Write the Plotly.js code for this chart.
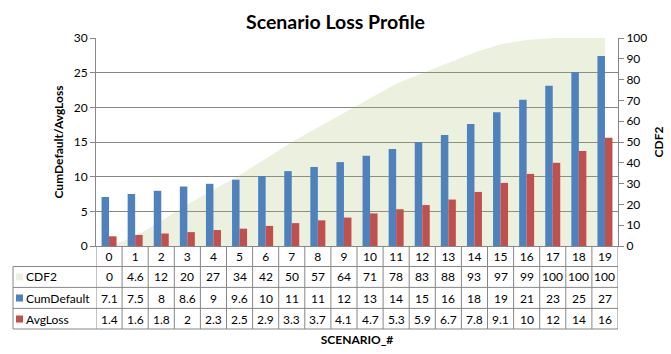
<!DOCTYPE html>
<html><head><meta charset="utf-8">
<script src="https://cdn.plot.ly/plotly-3.0.1.min.js"></script>
<style>html,body{margin:0;padding:0;background:#fff}</style>
</head><body><div id="chart" style="width:671px;height:354px"></div>
<script>
const scenarios = [0,1,2,3,4,5,6,7,8,9,10,11,12,13,14,15,16,17,18,19];
const cdf2 = [0,4.6,12,20,27,34,42,50,57,64,71,78,83,88,93,97,99,100,100,100];
const cumDefault = [7.07,7.5,7.96,8.58,8.97,9.56,10.1,10.8,11.4,12.1,13.0,14.0,15.0,16.0,17.6,19.3,21.1,23.1,25.1,27.4];
const avgLoss = [1.4,1.6,1.8,2.0,2.3,2.5,2.9,3.3,3.7,4.1,4.7,5.3,5.9,6.7,7.8,9.1,10.4,12.0,13.7,15.6];
const seriesNames = ['CDF2','CumDefault','AvgLoss'];

const FONT = 'Lato, "Open Sans", sans-serif';
const GRID = '#878787';
const colBlue = '#4F81BD', colRed = '#C0504D', colArea = 'rgba(155,187,89,0.2)', colAreaKey = '#EBF1DE';
const fmt = v => String(Number(v.toPrecision(2)));

const traces = [
  {type:'scatter', x: scenarios, y: cdf2, name: seriesNames[0], mode:'lines', fill:'tozeroy',
   fillcolor: colArea, line:{width:0, color: colArea}, xaxis:'x', yaxis:'y', hoverinfo:'skip'},
  {type:'bar', x: scenarios, y: cumDefault, name: seriesNames[1], marker:{color: colBlue}, xaxis:'x', yaxis:'y2'},
  {type:'bar', x: scenarios, y: avgLoss, name: seriesNames[2], marker:{color: colRed}, xaxis:'x', yaxis:'y2'}
];

// table geometry (paper coords)
const rowLines = [-0.0986, -0.199, -0.300, -0.399];
const rowCenters = [-0.149, -0.250, -0.351];
const tableLeft = -0.159;
const shapes = [];
rowLines.forEach(y => shapes.push({type:'line', xref:'paper', yref:'paper', x0: tableLeft, x1: 1, y0: y, y1: y, line:{color: GRID, width:1}}));
for (let i = 0; i <= scenarios.length; i++) {
  shapes.push({type:'line', xref:'x', yref:'paper', x0: i - 0.5, x1: i - 0.5, y0: rowLines[3], y1: 0, line:{color: GRID, width:1}});
}
shapes.push({type:'line', xref:'paper', yref:'paper', x0: tableLeft, x1: tableLeft, y0: rowLines[0], y1: rowLines[3], line:{color: GRID, width:1}});
const keyColors = [colAreaKey, colBlue, colRed];
const annotations = [];
const rows = [cdf2, cumDefault, avgLoss];
rows.forEach((vals, r) => {
  shapes.push({type:'rect', xref:'paper', yref:'paper', x0: -0.1533, x1: -0.1398,
    y0: rowCenters[r] - 0.017, y1: rowCenters[r] + 0.017, fillcolor: keyColors[r], line:{width:0}});
  annotations.push({xref:'paper', yref:'paper', x: -0.137, y: rowCenters[r], xanchor:'left', yanchor:'middle',
    text: seriesNames[r], showarrow:false, font:{family: FONT, size: 12, color:'#000'}});
  vals.forEach((v, i) => annotations.push({xref:'x', yref:'paper', x: scenarios[i], y: rowCenters[r],
    xanchor:'center', yanchor:'middle', text: fmt(v), showarrow:false, font:{family: FONT, size: 12, color:'#000'}}));
});

const layout = {
  width: 671, height: 354,
  margin: {l: 96, r: 53, t: 38, b: 108},
  paper_bgcolor: '#fff', plot_bgcolor: 'rgba(0,0,0,0)',
  font: {family: FONT, size: 12, color: '#000'},
  showlegend: false,
  barmode: 'group', bargap: 0.425, bargroupgap: 0,
  title: {text: 'Scenario Loss Profile', x: 0.5, xref: 'container', xanchor: 'center',
          y: 1 - 22/354, yref: 'container', yanchor: 'middle',
          font: {family: FONT, size: 19.5, weight: 'bold', color: '#000'}},
  xaxis: {type: 'linear', range: [-0.5, 19.5], tickmode: 'array', tickvals: scenarios, ticktext: scenarios.map(String),
          showgrid: false, zeroline: false, showline: true, linecolor: GRID, linewidth: 1, ticks: '',
          tickfont: {family: FONT, size: 12}, fixedrange: true,
          title: {text: 'SCENARIO_#', font: {family: FONT, size: 12, weight: 'bold'}, standoff: 72}},
  yaxis: {range: [0, 100], dtick: 10, side: 'right', showgrid: false, zeroline: false,
          showline: true, linecolor: GRID, ticks: 'outside', ticklen: 5, tickcolor: GRID,
          tickfont: {family: FONT, size: 12},
          title: {text: 'CDF2', font: {family: FONT, size: 12, weight: 'bold'}, standoff: 8}},
  yaxis2: {range: [0, 30], dtick: 5, side: 'left', overlaying: 'y', showgrid: true, gridcolor: GRID, gridwidth: 1,
           zeroline: false, showline: true, linecolor: GRID, ticks: 'outside', ticklen: 5, tickcolor: GRID,
           tickfont: {family: FONT, size: 12},
           title: {text: 'CumDefault/AvgLoss', font: {family: FONT, size: 12, weight: 'bold'}, standoff: 7}},
  shapes: shapes,
  annotations: annotations
};
Plotly.newPlot('chart', traces, layout, {displayModeBar: false, staticPlot: true});
</script></body></html>
